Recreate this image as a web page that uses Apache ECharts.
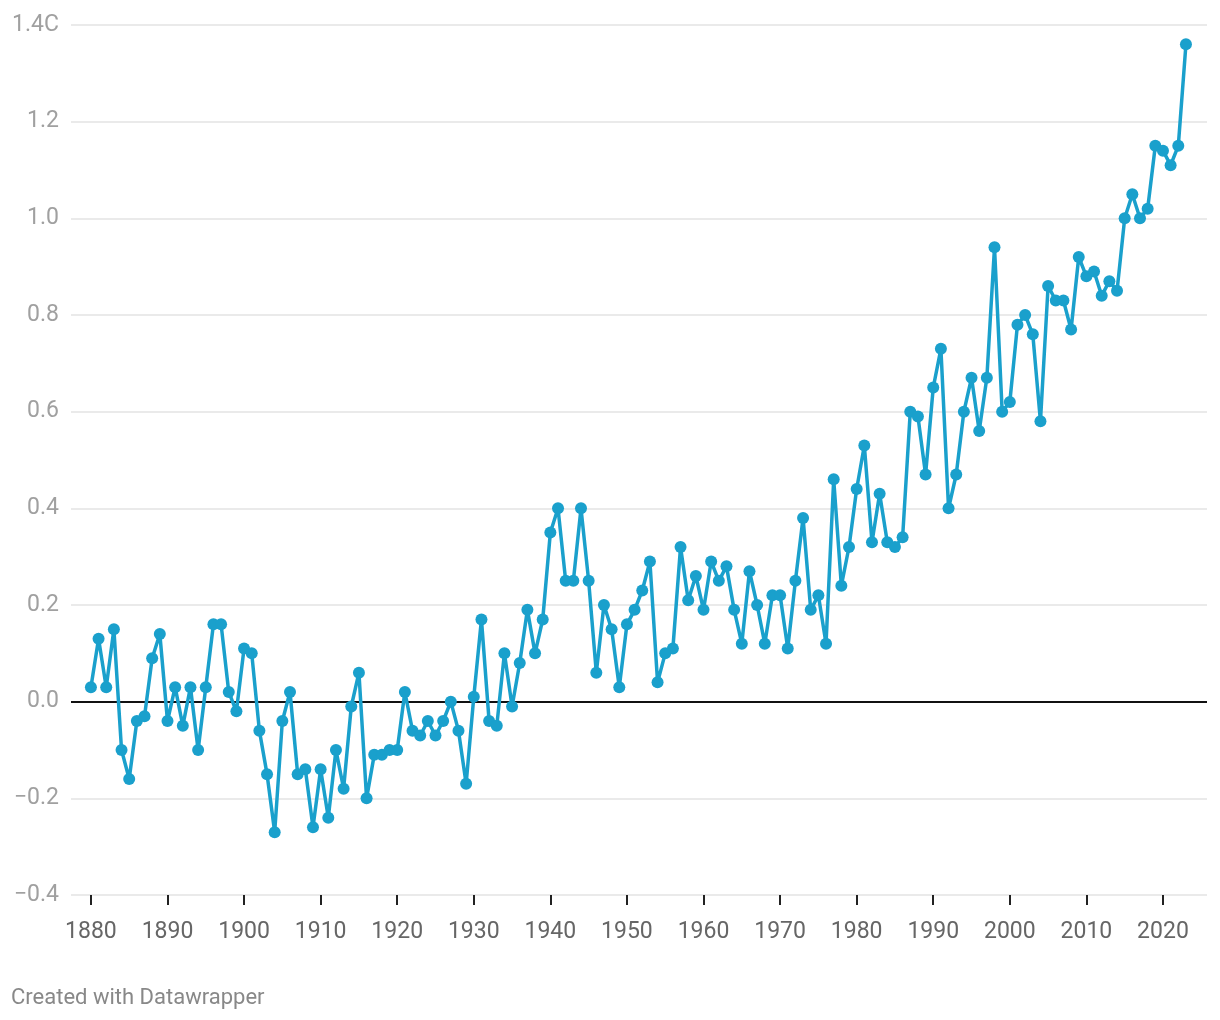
<!DOCTYPE html>
<html>
<head>
<meta charset="utf-8">
<script src="https://cdn.jsdelivr.net/npm/echarts@6/dist/echarts.min.js"></script>
<style>
html,body{margin:0;padding:0;background:#fff;}
#chart{width:1220px;height:1020px;}
</style>
</head>
<body>
<div id="chart"></div>
<script>
// Years 1880..2023
const startYear = 1880;
const anomalies = [
  0.03, 0.13, 0.03, 0.15, -0.10, -0.16, -0.04, -0.03, 0.09, 0.14,   // 1880s
  -0.04, 0.03, -0.05, 0.03, -0.10, 0.03, 0.16, 0.16, 0.02, -0.02,   // 1890s
  0.11, 0.10, -0.06, -0.15, -0.27, -0.04, 0.02, -0.15, -0.14, -0.26, // 1900s
  -0.14, -0.24, -0.10, -0.18, -0.01, 0.06, -0.20, -0.11, -0.11, -0.10, // 1910s
  -0.10, 0.02, -0.06, -0.07, -0.04, -0.07, -0.04, 0.00, -0.06, -0.17, // 1920s
  0.01, 0.17, -0.04, -0.05, 0.10, -0.01, 0.08, 0.19, 0.10, 0.17,    // 1930s
  0.35, 0.40, 0.25, 0.25, 0.40, 0.25, 0.06, 0.20, 0.15, 0.03,       // 1940s
  0.16, 0.19, 0.23, 0.29, 0.04, 0.10, 0.11, 0.32, 0.21, 0.26,       // 1950s
  0.19, 0.29, 0.25, 0.28, 0.19, 0.12, 0.27, 0.20, 0.12, 0.22,       // 1960s
  0.22, 0.11, 0.25, 0.38, 0.19, 0.22, 0.12, 0.46, 0.24, 0.32,       // 1970s
  0.44, 0.53, 0.33, 0.43, 0.33, 0.32, 0.34, 0.60, 0.59, 0.47,       // 1980s
  0.65, 0.73, 0.40, 0.47, 0.60, 0.67, 0.56, 0.67, 0.94, 0.60,       // 1990s
  0.62, 0.78, 0.80, 0.76, 0.58, 0.86, 0.83, 0.83, 0.77, 0.92,       // 2000s
  0.88, 0.89, 0.84, 0.87, 0.85, 1.00, 1.05, 1.00, 1.02, 1.15,       // 2010s
  1.14, 1.11, 1.15, 1.36                                             // 2020s
];
const years = anomalies.map((_, i) => startYear + i);
const xTickYears = [1880, 1890, 1900, 1910, 1920, 1930, 1940, 1950, 1960, 1970, 1980, 1990, 2000, 2010, 2020];
const yTicks = [-0.4, -0.2, 0, 0.2, 0.4, 0.6, 0.8, 1.0, 1.2, 1.4];

const seriesData = years.map((y, i) => [y, anomalies[i]]);

const chart = echarts.init(document.getElementById('chart'), null, {renderer: 'canvas'});
const FONT = 'Roboto, "Noto Sans", sans-serif';
chart.setOption({
  animation: false,
  backgroundColor: '#ffffff',
  grid: {left: 71, right: 13, top: 25, bottom: 125, containLabel: false},
  xAxis: {
    type: 'value',
    min: 1877.4,
    max: 2025.75,
    splitLine: {show: false},
    axisLine: {show: false, onZero: false},
    axisTick: {show: true, customValues: xTickYears, length: 10, lineStyle: {color: '#222', width: 2}},
    axisLabel: {
      customValues: xTickYears,
      margin: 26,
      color: '#666',
      fontSize: 23,
      fontFamily: FONT,
      formatter: v => String(v)
    }
  },
  yAxis: {
    type: 'value',
    min: -0.4,
    max: 1.4,
    interval: 0.2,
    axisLine: {show: false},
    axisTick: {show: false},
    splitLine: {lineStyle: {color: '#e3e3e3', width: 1.5}},
    axisLabel: {
      customValues: yTicks,
      margin: 12,
      color: '#a0a0a0',
      fontSize: 23,
      fontFamily: FONT,
      formatter: v => {
        const r = Math.round(v * 10) / 10;
        let s = Math.abs(r).toFixed(1);
        if (r < 0) s = '\u2212' + s;
        if (Math.abs(r - 1.4) < 1e-9) s += 'C';
        return s;
      }
    }
  },
  series: [{
    type: 'line',
    data: seriesData,
    symbol: 'circle',
    symbolSize: 12,
    showSymbol: true,
    lineStyle: {color: '#1aa0cc', width: 3.5},
    itemStyle: {color: '#1aa0cc'},
    z: 3,
    markLine: {
      silent: true,
      symbol: ['none', 'none'],
      label: {show: false},
      lineStyle: {color: '#111', width: 2, type: 'solid'},
      data: [{yAxis: 0}],
      z: 2
    }
  }],
  graphic: [{
    type: 'text',
    left: 11,
    top: 987,
    style: {text: 'Created with Datawrapper', fill: '#888', font: '22px ' + FONT}
  }]
});
</script>
</body>
</html>
